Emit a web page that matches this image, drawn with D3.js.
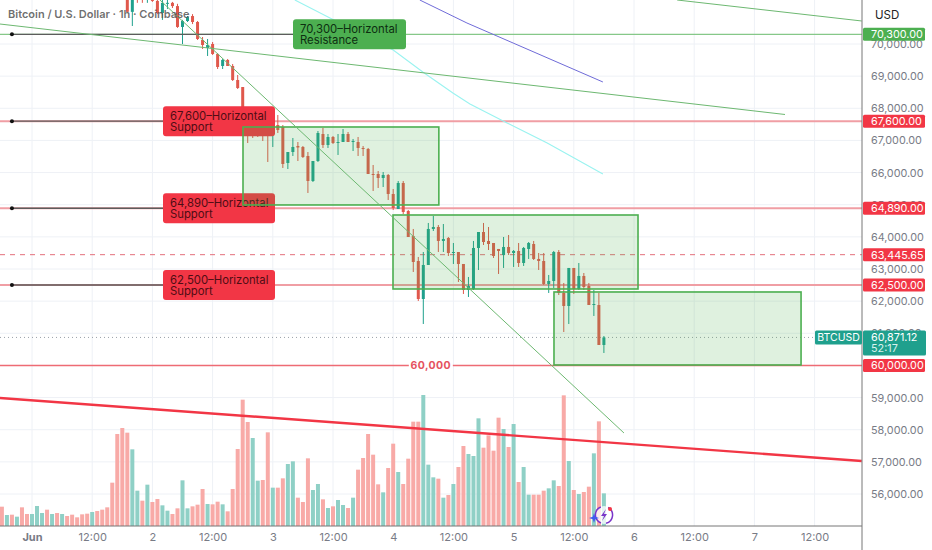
<!DOCTYPE html>
<html>
<head>
<meta charset="utf-8">
<script src="https://cdn.jsdelivr.net/npm/d3@7"></script>
<style>
  html, body { margin: 0; padding: 0; background: #fff; }
  svg { display: block; font-family: Inter, "Noto Sans", sans-serif; }
</style>
</head>
<body>
<svg id="chart" width="932" height="550"></svg>
<script>
//------------------------------------------------------------------------------
//Data, hours counted from Jun 1 00:00
//------------------------------------------------------------------------------
let timeTicks = [0, 12, 24, 36, 48, 60, 72, 84, 96, 108, 120, 132, 144, 156];
let timeLabels = ["Jun", "12:00", "2", "12:00", "3", "12:00", "4", "12:00", "5", "12:00", "6", "12:00", "7", "12:00"];
let priceTicks = [56000, 57000, 58000, 59000, 60000, 61000, 62000, 63000, 64000, 65000, 66000, 67000, 68000, 69000, 70000];

// hourly candles from hour 19
let firstCandle = 19;
let opens = [71525,71000,71555,71495,71400,71430,71340,70965,71250,71280,71180,70530,70715,70870,70685,70125,69876,70000,69689,69316,69503,69316,68880,68662,67480,67418,67480,67418,67387,67200,67480,67418,66298,66640,66827,66796,66516,65738,66360,67200,66858,67107,66920,66951,67200,66951,66951,66765,66734,65956,65956,65831,65925,65334,64867,65676,64805,64027,63249,62067,63125,64245,64307,63872,63965,63498,63529,63156,62347,62378,63654,64151,63872,63809,63623,63436,63685,63498,63561,63187,63623,63778,63312,63249,62534,62627,63529,62254,61849,63032,62378,62783,62472,61880,61880,60636];
let highs = [71620,71555,71620,71555,71555,71525,71370,71370,71370,71310,71250,70750,70870,70930,70715,70218,70156,70062,69720,69534,69534,69378,69036,68662,67636,67480,67574,67511,67574,67574,67791,67480,66640,67076,66951,66827,66640,66360,67293,67387,67200,67138,67200,67356,67262,67045,67107,66827,66765,66236,66049,66018,65956,65489,65738,65738,64836,64245,63374,63529,64432,64649,64369,64400,63996,63809,63529,63156,62752,63872,64151,64432,64307,63809,63623,63996,64058,63591,63809,63685,63840,63872,63498,63498,62814,63561,63591,62565,63032,63032,63187,62876,62565,62347,62254,60916];
let lows = [71000,70560,71280,71280,71280,71310,70930,70750,71090,71120,70500,70000,70685,70620,70125,69845,69627,69658,69222,69222,69316,68849,68600,67449,66920,67076,67107,66982,66329,66796,67231,66143,66111,66516,66360,66454,65365,65707,66329,66765,66765,66889,66547,66951,66951,66671,66516,66516,65956,65427,65520,65551,65147,64836,64867,64711,63996,62907,62005,61289,63125,64182,63529,63529,63405,63156,62596,62223,62129,62347,62969,63747,63591,63343,62845,63032,63436,63063,63063,63094,63312,63280,62969,62503,62254,62409,62191,61040,61289,62223,62347,62347,61880,61538,60636,60387];
let closes = [71000,71460,71430,71400,71495,71340,70965,71280,71280,71180,70530,70715,70840,70685,70156,69969,69969,69689,69285,69503,69316,68880,68631,67480,67169,67169,67231,67200,67200,67449,67325,66267,66640,66796,66780,66485,65738,66360,67231,66858,67107,66920,66951,67200,66951,66982,66765,66734,65956,65925,65831,65925,65334,64898,65676,64774,63996,63218,62067,63125,64245,64307,63872,63934,63498,63529,63156,62347,62472,63654,64151,63840,63778,63405,63561,63685,63498,63561,63187,63654,63809,63312,63249,62534,62627,63529,62254,61849,63032,62378,62783,62440,61880,61911,60636,60871];

// hourly volume from hour -6, u = up, d = down, ten bars per string
let firstVolume = -6;
let volumes = [58,33,34,28,56,36,36,60,39,49,36,39,36,30,34,26,35,37,42,45,49,56,130,276,294,280,230,106,76,124,72,81,62,46,36,53,137,53,59,64,111,66,65,73,65,44,111,231,379,312,264,136,138,281,115,115,143,186,194,85,72,203,108,126,80,54,59,78,63,54,85,169,204,276,214,125,101,174,247,162,126,202,313,313,393,184,146,142,85,93,126,177,240,216,210,323,235,272,226,325,291,237,306,132,177,94,94,94,106,113,137,120,392,195,108,96,102,118,218,314,98];
let volumeRows = ["dududduuud", "ududddddud", "dddddduudu", "dduudduudd", "duddudddddd", "uuddudduud", "dduududuud", "uddddduddu", "dddduuudud", "udduuudddd", "ududuudddu", "uddududdud", "u"];
volumeRows[4] = "dudduddddd";
let volumeSides = volumeRows.join("").split("");

// horizontal levels
let resistanceLevels = [70300];
let supportLevels = [67600, 64890, 62500];
let supportLabels = ["67,600–Horizontal", "64,890–Horizontal", "62,500–Horizontal"];
let lastClosePrice = 63445.65;
let roundLevel = 60000;
let currentPrice = 60871.12;
let countdown = "52:17";

// rectangles: hour start, hour end, price top, price bottom
let boxHours = [[42.06, 81.1], [71.96, 120.8], [104.05, 153.3]];
let boxPrices = [[67418, 64992], [64680, 62378], [62285, 60014]];

// trend lines, hour and price pairs
let channelHours = [-6.4, 150.1];
let channelPrices = [70622, 67807];
let steepHours = [25.5, 118];
let steepPrices = [71369, 57898];
let upperHours = [128.6, 165.4];
let upperPrices = [71369, 70716];
let redHours = [-6.4, 165.4];
let redPrices = [58987, 57026];
let blueHours = [77.3, 86.7, 95.9, 113.8];
let bluePrices = [71369, 70653, 70031, 68818];
let cyanHours = [52.4, 59.4, 72.0, 77.9, 83.9, 87.3, 94.7, 102.7, 113.8];
let cyanPrices = [71369, 70809, 69814, 69129, 68476, 68134, 67542, 66920, 65956];

//------------------------------------------------------------------------------
//Scales
//------------------------------------------------------------------------------
const plotRight = 862, plotBottom = 526;
const x = d3.scaleLinear().domain([0, 120]).range([32, 634]);
const y = d3.scaleLinear().domain([56000, 70000]).range([494, 44]);
const v = d3.scaleLinear().domain([0, 393]).range([plotBottom, 395]);

const RED = "#f23645", GREEN = "#4caf50", TEAL = "#1fa08d", CANDLE_RED = "#e0584c";

const svg = d3.select("#chart");
svg.append("clipPath").attr("id", "plot")
    .append("rect").attr("width", plotRight).attr("height", plotBottom);

const plot = svg.append("g").attr("clip-path", "url(#plot)");
const line = d3.line().x(d => x(d[0])).y(d => y(d[1]));
const pairs = (a, b) => a.map((d, i) => [d, b[i]]);
const trend = (h, p, color, width) => plot.append("path")
    .attr("d", line(pairs(h, p)))
    .attr("fill", "none").attr("stroke", color).attr("stroke-width", width);

main();

function main()
{
    drawGrid();
    drawVolume();
    drawLevels();
    trend(cyanHours, cyanPrices, "#9af3f0", 1.1);
    trend(blueHours, bluePrices, "#6f6bd8", 1);
    drawCandles();
    drawBubbles();
    drawBoxes();
    trend(channelHours, channelPrices, "#6db871", 1);
    trend(steepHours, steepPrices, "#6db871", 1);
    trend(upperHours, upperPrices, "#6db871", 1);
    trend(redHours, redPrices, RED, 2.4);
    drawAxes();
    drawTags();
    drawHeader();
    drawLogo();
}

//------------------------------------------------------------------------------
//Grid and marks
//------------------------------------------------------------------------------
function drawGrid()
{
    plot.selectAll(".gx").data(timeTicks).enter().append("line")
        .attr("x1", d => x(d)).attr("x2", d => x(d))
        .attr("y1", 0).attr("y2", plotBottom)
        .attr("stroke", "#eef1f6");
    plot.selectAll(".gy").data(priceTicks).enter().append("line")
        .attr("y1", d => y(d)).attr("y2", d => y(d))
        .attr("x1", 0).attr("x2", plotRight)
        .attr("stroke", "#eef1f6");
}

function drawVolume()
{
    plot.selectAll(".vol").data(volumes).enter().append("rect")
        .attr("x", (d, i) => x(firstVolume + i) - 2)
        .attr("width", 4)
        .attr("y", d => v(d))
        .attr("height", d => plotBottom - v(d))
        .attr("fill", (d, i) => volumeSides[i] == "u" ? "#8fd0c6" : "#f8aaa7");
}

function drawLevels()
{
    let hLine = (price, color, width, dash) => plot.append("line")
        .attr("x1", 0).attr("x2", plotRight)
        .attr("y1", y(price)).attr("y2", y(price))
        .attr("stroke", color).attr("stroke-width", width)
        .attr("stroke-dasharray", dash);

    resistanceLevels.forEach(p => hLine(p, "#86c889", 1.2, null));
    supportLevels.forEach(p => hLine(p, "#f09ea4", 2, null));
    hLine(lastClosePrice, "#e4707c", 1, "5 5");
    hLine(currentPrice, "#9aa0a8", 1, "1 3");
    hLine(roundLevel, "#ee6b74", 1.4, null);

    // round number label, centred on the middle of the line
    plot.append("rect")
        .attr("x", x(79.5) - 22).attr("width", 44)
        .attr("y", y(roundLevel) - 7).attr("height", 14)
        .attr("fill", "#fff");
    plot.append("text")
        .attr("x", x(79.5)).attr("y", y(roundLevel) + 3.5)
        .attr("text-anchor", "middle")
        .attr("font-size", 10.5).attr("font-weight", 700).attr("letter-spacing", 0.4)
        .attr("fill", "#e5525e")
        .text("60,000");
}

function drawCandles()
{
    let candles = plot.selectAll(".candle").data(opens).enter().append("g")
        .attr("transform", (d, i) => "translate(" + x(firstCandle + i) + ",0)");

    candles.append("line")
        .attr("y1", (d, i) => y(highs[i]))
        .attr("y2", (d, i) => y(lows[i]))
        .attr("stroke", (d, i) => closes[i] < d ? CANDLE_RED : TEAL);

    candles.append("rect")
        .attr("x", -1.5).attr("width", 3)
        .attr("y", (d, i) => y(Math.max(d, closes[i])))
        .attr("height", (d, i) => Math.max(1, Math.abs(y(d) - y(closes[i]))))
        .attr("fill", (d, i) => closes[i] < d ? CANDLE_RED : TEAL);
}

function drawBubbles()
{
    // black connector, dot and two line label for each level
    let bubble = (price, left, width, fill, ink, first, second) => {
        plot.append("line")
            .attr("x1", x(-4)).attr("x2", left)
            .attr("y1", y(price)).attr("y2", y(price))
            .attr("stroke", "#5c5c5c").attr("stroke-width", 1.4);
        plot.append("circle")
            .attr("cx", x(-4)).attr("cy", y(price)).attr("r", 2).attr("fill", "#111");
        plot.append("rect")
            .attr("x", left).attr("y", y(price) - 15)
            .attr("width", width).attr("height", 30).attr("rx", 3)
            .attr("fill", fill);
        plot.append("text")
            .attr("x", left + 7).attr("y", y(price) - 1.5)
            .attr("font-size", 11.3).attr("fill", ink).text(first);
        plot.append("text")
            .attr("x", left + 7).attr("y", y(price) + 9.5)
            .attr("font-size", 11.3).attr("fill", ink).text(second);
    };

    supportLevels.forEach((p, i) =>
        bubble(p, 163, 112, RED, "#4f0d14", supportLabels[i], "Support"));
    bubble(resistanceLevels[0], 293, 113, GREEN, "#0d2e10", "70,300–Horizontal", "Resistance");
}

function drawBoxes()
{
    plot.selectAll(".box").data(boxHours).enter().append("rect")
        .attr("x", d => x(d[0]))
        .attr("width", d => x(d[1]) - x(d[0]))
        .attr("y", (d, i) => y(boxPrices[i][0]))
        .attr("height", (d, i) => y(boxPrices[i][1]) - y(boxPrices[i][0]))
        .attr("fill", GREEN).attr("fill-opacity", 0.18)
        .attr("stroke", GREEN).attr("stroke-width", 1.6);
}

//------------------------------------------------------------------------------
//Axes
//------------------------------------------------------------------------------
function drawAxes()
{
    let bottom = d3.axisBottom(x)
        .tickValues(timeTicks)
        .tickFormat((d, i) => timeLabels[i])
        .tickSize(0).tickPadding(7);
    let gb = svg.append("g")
        .attr("transform", "translate(0," + plotBottom + ")")
        .call(bottom);
    gb.select(".domain").remove();
    gb.selectAll("text")
        .attr("font-family", "Inter").attr("font-size", 11)
        .attr("fill", "#787b86")
        .attr("font-weight", (d, i) => i == 0 ? 700 : 400);

    let right = d3.axisRight(y)
        .tickValues(priceTicks)
        .tickFormat(d3.format(",.2f"))
        .tickSize(0).tickPadding(9);
    let gr = svg.append("g")
        .attr("transform", "translate(" + plotRight + ",0)")
        .call(right);
    gr.select(".domain").remove();
    gr.selectAll("text")
        .attr("font-family", "Inter").attr("font-size", 10.8)
        .attr("fill", "#787b86");

    svg.append("line").attr("x1", 0).attr("x2", plotRight)
        .attr("y1", plotBottom).attr("y2", plotBottom).attr("stroke", "#777");
    svg.append("line").attr("x1", plotRight).attr("x2", plotRight)
        .attr("y1", 0).attr("y2", 550).attr("stroke", "#777");
}

function drawTags()
{
    let tag = (price, color, label) => {
        svg.append("rect")
            .attr("x", plotRight + 1).attr("y", y(price) - 6.5)
            .attr("width", 62).attr("height", 13).attr("rx", 1.5)
            .attr("fill", color);
        svg.append("text")
            .attr("x", plotRight + 9).attr("y", y(price) + 4)
            .attr("font-size", 10.8).attr("fill", "#fff").text(label);
    };

    let fmt = d3.format(",.2f");
    tag(resistanceLevels[0], GREEN, fmt(resistanceLevels[0]));
    supportLevels.forEach(p => tag(p, RED, fmt(p)));
    tag(lastClosePrice, RED, fmt(lastClosePrice));
    tag(roundLevel, RED, fmt(roundLevel));

    // current price
    let py = y(currentPrice);
    svg.append("rect")
        .attr("x", 815).attr("y", py - 7).attr("width", 47).attr("height", 14)
        .attr("rx", 1.5).attr("fill", TEAL);
    svg.append("text")
        .attr("x", 838.5).attr("y", py + 4).attr("text-anchor", "middle")
        .attr("font-size", 10.5).attr("fill", "#fff").text("BTCUSD");
    svg.append("rect")
        .attr("x", plotRight + 1).attr("y", py - 7).attr("width", 63).attr("height", 25)
        .attr("rx", 1.5).attr("fill", TEAL);
    svg.append("text")
        .attr("x", plotRight + 9).attr("y", py + 4)
        .attr("font-size", 10.8).attr("fill", "#fff").text(fmt(currentPrice));
    svg.append("text")
        .attr("x", plotRight + 9).attr("y", py + 15)
        .attr("font-size", 10.8).attr("fill", "#d9f2ee").text(countdown);
}

function drawHeader()
{
    svg.append("text")
        .attr("x", 8).attr("y", 18)
        .attr("font-size", 11).attr("font-weight", 600)
        .attr("fill", "#555").attr("fill-opacity", 0.85)
        .text("Bitcoin / U.S. Dollar · 1h · Coinbase");
    svg.append("text")
        .attr("x", 875).attr("y", 19)
        .attr("font-size", 11.5).attr("font-weight", 400).attr("fill", "#222")
        .text("USD");
}

function drawLogo()
{
    let g = svg.append("g").attr("transform", "translate(604,515)");
    let ring = d3.arc().innerRadius(7.8).outerRadius(9.3);
    g.append("circle").attr("r", 9).attr("fill", "#fff").attr("fill-opacity", 0.75);
    g.append("path")
        .attr("d", ring({ startAngle: 0.5, endAngle: 2.9 }))
        .attr("fill", "#7a35c9");
    g.append("path")
        .attr("d", ring({ startAngle: 3.5, endAngle: 5.9 }))
        .attr("fill", "#7a35c9");
    g.append("path")
        .attr("d", "M2,-6 L-3,1 L0,1 L-2,6 L3,-1 L0,-1 Z")
        .attr("fill", "#7a35c9");
    g.append("path")
        .attr("d", "M0,-5 L1.2,-1.2 L5,0 L1.2,1.2 L0,5 L-1.2,1.2 L-5,0 L-1.2,-1.2 Z")
        .attr("transform", "translate(-10,3)")
        .attr("fill", "#3f5bf0");
    g.append("circle")
        .attr("cx", 6).attr("cy", -6).attr("r", 2)
        .attr("fill", RED);
}
</script>
</body>
</html>
